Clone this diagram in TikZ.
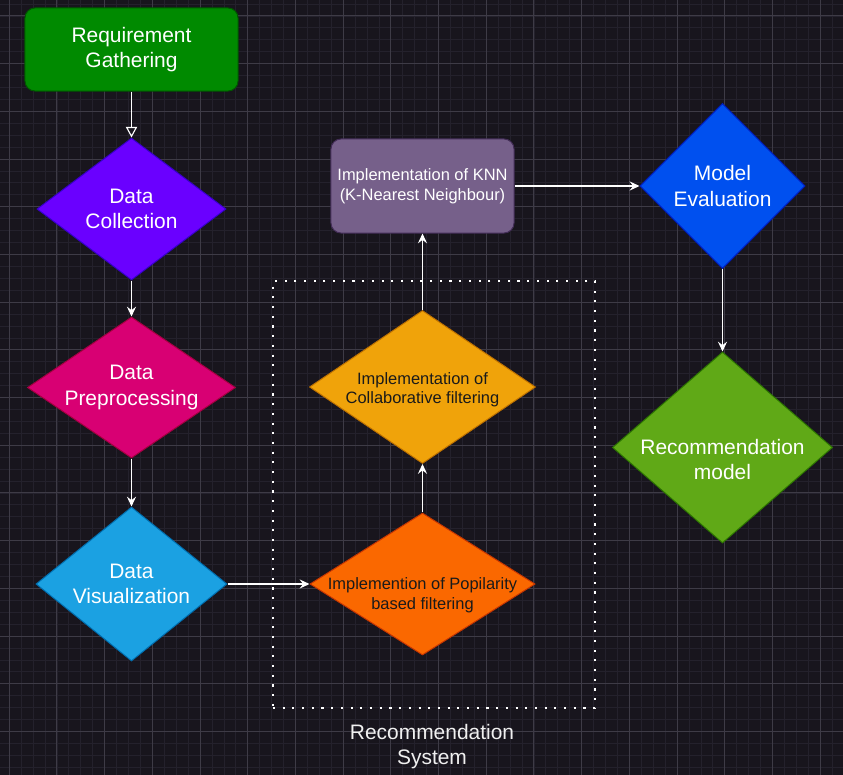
\documentclass[tikz,border=0pt]{standalone}
\usepackage{fontspec}
\setmainfont{Liberation Sans}
\usetikzlibrary{shapes.geometric,arrows.meta}

\definecolor{canvas}{RGB}{24,21,29}
\definecolor{minorline}{RGB}{36,33,44}
\definecolor{majorline}{RGB}{62,59,70}
\definecolor{reqfill}{HTML}{008A00}
\definecolor{reqline}{HTML}{005700}
\definecolor{colfill}{HTML}{6A00FF}
\definecolor{colline}{HTML}{3700CC}
\definecolor{prefill}{HTML}{D80073}
\definecolor{preline}{HTML}{A50040}
\definecolor{visfill}{HTML}{1BA1E2}
\definecolor{visline}{HTML}{006EAF}
\definecolor{popfill}{HTML}{FA6800}
\definecolor{popline}{HTML}{C73500}
\definecolor{cffill}{HTML}{F0A30A}
\definecolor{cfline}{HTML}{BD7000}
\definecolor{knnfill}{HTML}{76608A}
\definecolor{knnline}{HTML}{432D57}
\definecolor{evalfill}{HTML}{0050EF}
\definecolor{evalline}{HTML}{001DBC}
\definecolor{recfill}{HTML}{60A917}
\definecolor{recline}{HTML}{2D7600}
\definecolor{darktext}{HTML}{1A1A1A}

\begin{document}
    \begin{tikzpicture}[x=0.025cm, y=-0.025cm,
        box/.style={draw, rounded corners=0.25cm, line width=0.7pt, align=center},
        dmd/.style={diamond, draw, line width=0.7pt, inner sep=0pt},
        bigtxt/.style={font=\fontsize{14.9}{18.2}\selectfont, text=white, align=center},
        smalltxt/.style={font=\fontsize{11.7}{14}\selectfont, align=center},
        flow/.style={draw=white, line width=0.8pt, -{Stealth[length=7pt, width=6.5pt, inset=2.5pt]}},
        dotframe/.style={draw=white, line width=1.5pt, dash pattern=on 1.5pt off 5.4pt}]
        \useasboundingbox[fill=canvas] (0,0) rectangle (843,775);
        \foreach \i in {0,...,69}
            \draw[minorline, line width=0.5pt] (9.2+11.925*\i,0) -- (9.2+11.925*\i,775);
        \foreach \i in {0,...,64}
            \draw[minorline, line width=0.5pt] (0,3.975+11.925*\i) -- (843,3.975+11.925*\i);
        \foreach \i in {0,...,17}
            \draw[majorline, line width=0.6pt] (9.2+47.7*\i,0) -- (9.2+47.7*\i,775);
        \foreach \i in {0,...,15}
            \draw[majorline, line width=0.6pt] (0,15.9+47.7*\i) -- (843,15.9+47.7*\i);
        
        \node[dotframe, minimum width=8.05cm, minimum height=10.675cm] (RS) at (434,494.5) {};
        \node[bigtxt, text=white!94!black] (RSL) at (432,746.5) {Recommendation\\System};
        
        \node[box, bigtxt, fill=reqfill, draw=reqline, minimum width=5.325cm, minimum height=2.075cm] (RG) at (131.5,49.5) {Requirement\\Gathering};
        \node[dmd, fill=colfill, draw=colline, minimum width=4.725cm, minimum height=3.55cm, label={[bigtxt]center:Data\\Collection}] (DC) at (131.5,209) {};
        \node[dmd, fill=prefill, draw=preline, minimum width=5.2cm, minimum height=3.525cm, label={[bigtxt]center:Data\\Preprocessing}] (DP) at (131.5,387.5) {};
        \node[dmd, fill=visfill, draw=visline, minimum width=4.775cm, minimum height=3.85cm, label={[bigtxt]center:Data\\Visualization}] (DV) at (131.5,584) {};
        
        \node[dmd, fill=popfill, draw=popline, minimum width=5.625cm, minimum height=3.55cm, label={[smalltxt, text=darktext, yshift=-0.275cm]center:Implemention of Popilarity\\based filtering}] (PB) at (422.5,584) {};
        \node[dmd, fill=cffill, draw=cfline, minimum width=5.65cm, minimum height=3.825cm, label={[smalltxt, text=darktext, yshift=-0.07cm]center:Implementation of\\Collaborative filtering}] (CF) at (422.5,387) {};
        \node[box, smalltxt, text=white, fill=knnfill, draw=knnline, minimum width=4.575cm, minimum height=2.35cm] (KNN) at (422.5,186) {Implementation of KNN\\(K-Nearest Neighbour)};
        
        \node[dmd, fill=evalfill, draw=evalline, minimum width=4.125cm, minimum height=4.125cm, label={[bigtxt]center:Model\\Evaluation}] (ME) at (722.5,186) {};
        \node[dmd, fill=recfill, draw=recline, minimum width=5.5cm, minimum height=4.775cm, label={[bigtxt, yshift=-0.3cm]center:Recommendation\\model}] (RM) at (722.5,447.5) {};
        
        \draw[flow, -{Triangle[open, length=7.5pt, width=8pt]}] (RG) -- (DC);
        \draw[flow] (DC) -- (DP);
        \draw[flow] (DP) -- (DV);
        \draw[flow] (DV) -- (PB);
        \draw[flow] (PB) -- (CF);
        \draw[flow] (CF) -- (KNN);
        \draw[flow] (KNN) -- (ME);
        \draw[flow] (ME) -- (RM);
    \end{tikzpicture}
\end{document}
